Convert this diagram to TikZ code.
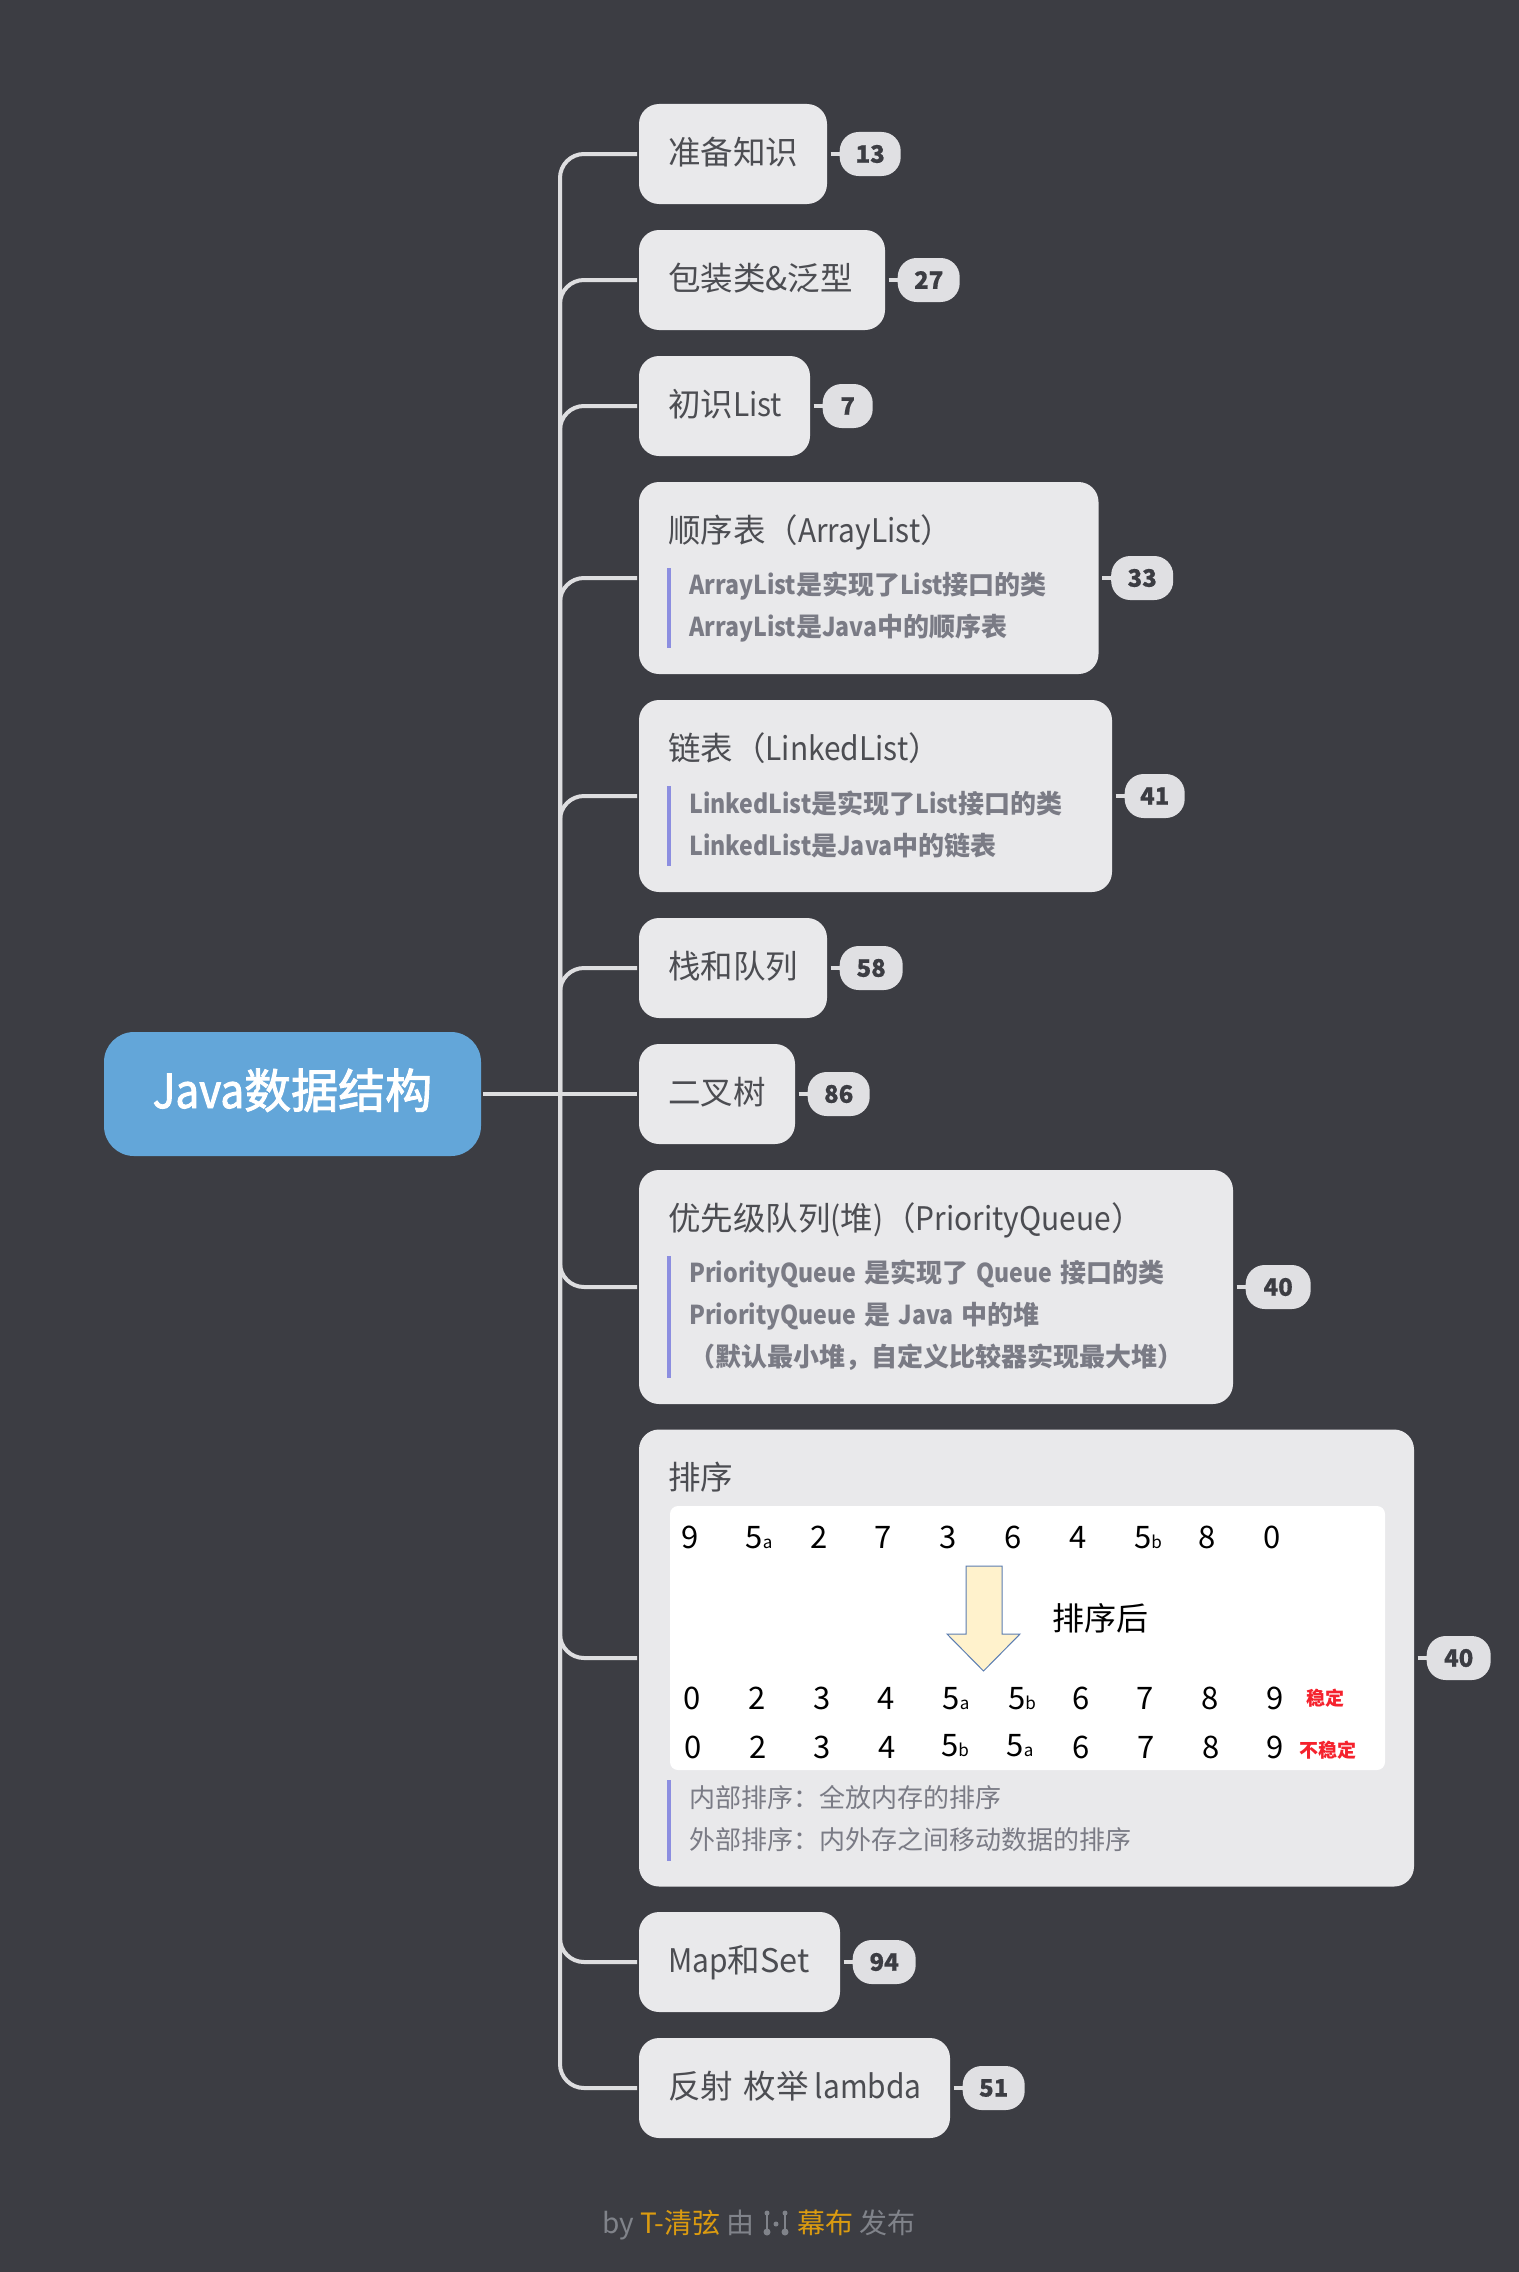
\documentclass[tikz,border=0pt]{standalone}
\usepackage{fontspec}
\setmainfont{Noto Sans CJK SC}
\newfontfamily\latf[FakeStretch=0.92,BoldFeatures={FakeStretch=0.89}]{Noto Sans CJK SC}
\newfontfamily\rootf[FakeBold=2]{Noto Sans CJK SC}
\newfontfamily\rootlatf[FakeBold=2,FakeStretch=0.9]{Noto Sans CJK SC}
\newfontfamily\badgef[BoldFeatures={FakeBold=0.6}]{Noto Sans CJK SC}
\newcommand{\lat}[1]{{\latf #1}}
\newcommand{\wsp}{\hspace{8pt}}
\definecolor{bgc}{HTML}{3C3D43}
\definecolor{boxc}{HTML}{E9E9EB}
\definecolor{rootc}{HTML}{63A6D9}
\definecolor{badgec}{HTML}{E0E0E3}
\definecolor{linec}{HTML}{DEDEE0}
\definecolor{titlec}{HTML}{4C4D52}
\definecolor{notec}{HTML}{7A7B85}
\definecolor{barc}{HTML}{8C8EE0}
\definecolor{footc}{HTML}{80838A}
\definecolor{orangec}{HTML}{DB9B10}
\definecolor{stablec}{HTML}{F5222D}
\definecolor{arrowc}{HTML}{FFF2CC}
\definecolor{arrowl}{HTML}{5B7DB1}
\newcommand{\fsz}[1]{\fontsize{#1}{#1}\selectfont}
\newcommand{\subs}[1]{{\fsz{17}#1}}
\tikzset{
  x=1pt,y=-1pt,
  rootbox/.style={fill=rootc,rounded corners=30pt,text=white,font=\fsz{47}\rootf,
    anchor=west,minimum width=377pt,minimum height=124pt,outer sep=2pt,inner sep=0pt,
    text height=39pt,text depth=11pt},
  topicbox/.style={fill=boxc,rounded corners=20pt,text=titlec,font=\fsz{32.5},anchor=west,
    minimum height=100pt,inner xsep=29pt,inner ysep=0pt,align=left,outer sep=2pt,
    text height=26.5pt,text depth=5.5pt},
  panelbox/.style={fill=boxc,rounded corners=20pt,anchor=west,inner sep=0pt,outer sep=2pt},
  titletext/.style={text=titlec,font=\fsz{32.5},anchor=west,inner sep=0pt,text height=28pt,text depth=4pt},
  notetext/.style={text=notec,font=\fontsize{26}{42}\selectfont\bfseries,anchor=west,inner sep=0pt,align=left},
  plainnote/.style={text=notec,font=\fontsize{26}{42}\selectfont,anchor=west,inner sep=0pt,align=left},
  notebar/.style={fill=barc,draw=none},
  badge/.style={fill=badgec,rounded corners=19pt,text=bgc,font=\fsz{24}\badgef\bfseries,
    anchor=west,minimum height=44pt,inner sep=0pt},
  conn/.style={draw=linec,line width=4pt,rounded corners=24pt},
  stub/.style={draw=linec,line width=4pt,shorten <=1.5pt},
  digit/.style={text=black,font=\fsz{31},inner sep=0pt,text height=27pt,text depth=4pt},
  tag/.style={text=stablec,font=\fsz{19}\bfseries,inner sep=0pt},
  foot/.style={text=footc,font=\fsz{28},anchor=west,inner sep=0pt,text height=24pt,text depth=3pt},
}
\begin{document}
\begin{tikzpicture}
\useasboundingbox (0,0) rectangle (1518,2272);
\fill[bgc] (-6,-6) rectangle (1524,2278);

% root
\node[rootbox] (root) at (102,1094) {{\rootlatf Java}数据结构};

% topics
\node[topicbox,text width=130pt] (n1) at (637,154) {准备知识};
\node[topicbox,text width=188pt] (n2) at (637,280) {包装类\&泛型};
\node[topicbox,text width=113pt] (n3) at (637,406) {初识\lat{List}};
\node[panelbox,minimum width=459.5pt,minimum height=192pt] (n4) at (637,578) {};
\node[panelbox,minimum width=473pt,minimum height=192pt] (n5) at (637,796) {};
\node[topicbox,text width=130pt] (n6) at (637,968) {栈和队列};
\node[topicbox,text width=98pt] (n7) at (637,1094) {二叉树};
\node[panelbox,minimum width=594pt,minimum height=234pt] (n8) at (637,1287) {};
\node[panelbox,minimum width=775pt,minimum height=457pt] (n9) at (637,1658) {};
\node[topicbox,text width=143pt] (n10) at (637,1962) {\lat{Map}和Set};
\node[topicbox,text width=253pt] (n11) at (637,2088) {\mbox{反射~枚举\hspace{6pt}\lat{lambda}}};

% panel contents: arraylist
\node[titletext] (t4) at (668,530) {顺序表（\lat{ArrayList}）};
\fill[notebar] (667,568) rectangle (670.5,648);
\node[notetext] (d4) at (689,607.5) {\lat{ArrayList}是实现了\lat{List}接口的类\\\lat{ArrayList}是\lat{Java}中的顺序表};
% linkedlist
\node[titletext] (t5) at (668,748) {链表（\lat{LinkedList}）};
\fill[notebar] (667,786) rectangle (670.5,866);
\node[notetext] (d5) at (689,824) {\lat{LinkedList}是实现了\lat{List}接口的类\\\lat{LinkedList}是\lat{Java}中的链表};
% priority queue
\node[titletext] (t8) at (668,1218) {优先级队列\lat{(}堆\lat{)}（\lat{PriorityQueue}）};
\fill[notebar] (667,1256) rectangle (670.5,1378);
\node[notetext] (d8) at (689,1315) {\lat{PriorityQueue}\wsp 是实现了\wsp\lat{Queue}\wsp 接口的类\\\lat{PriorityQueue}\wsp 是\wsp\lat{Java}\wsp 中的堆\\（默认最小堆，自定义比较器实现最大堆）};
% sort
\node[titletext] (t9) at (668,1477) {排序};
\fill[white,rounded corners=8pt] (670,1506) rectangle (1385,1770);
\node[digit] (a0) at (690,1537) {9};
\node[digit] (a1) at (759,1537) {5\subs{a}};
\node[digit] (a2) at (819,1537) {2};
\node[digit] (a3) at (883,1537) {7};
\node[digit] (a4) at (948,1537) {3};
\node[digit] (a5) at (1013,1537) {6};
\node[digit] (a6) at (1078,1537) {4};
\node[digit] (a7) at (1148,1537) {5\subs{b}};
\node[digit] (a8) at (1207,1537) {8};
\node[digit] (a9) at (1272,1537) {0};
\draw[draw=arrowl,line width=1pt,fill=arrowc] (966,1566) -- (1002,1566) -- (1002,1634) -- (1020,1634) -- (983.5,1671) -- (947,1634) -- (966,1634) -- cycle;
\node[digit,font=\fsz{32},text height=27pt,text depth=5pt] (after) at (1100,1619) {排序后};
\node[digit] (b0) at (692,1698) {0};
\node[digit] (b1n) at (757,1698) {2};
\node[digit] (b2n) at (822,1698) {3};
\node[digit] (b3n) at (886,1698) {4};
\node[digit] (b4n) at (956,1698) {5\subs{a}};
\node[digit] (b5n) at (1022,1698) {5\subs{b}};
\node[digit] (b6n) at (1081,1698) {6};
\node[digit] (b7n) at (1145,1698) {7};
\node[digit] (b8n) at (1210,1698) {8};
\node[digit] (b9n) at (1275,1698) {9};
\node[tag] (st) at (1325,1698) {稳定};
\node[digit] (c0) at (693,1747) {0};
\node[digit] (c1) at (758,1747) {2};
\node[digit] (c2) at (822,1747) {3};
\node[digit] (c3) at (887,1747) {4};
\node[digit] (c4) at (955,1745) {5\subs{b}};
\node[digit] (c5) at (1020,1745) {5\subs{a}};
\node[digit] (c6) at (1081,1747) {6};
\node[digit] (c7) at (1146,1747) {7};
\node[digit] (c8) at (1211,1747) {8};
\node[digit] (c9) at (1275,1747) {9};
\node[tag] (ust) at (1328,1750) {不稳定};
\fill[notebar] (667,1780) rectangle (670.5,1861);
\node[plainnote] (d9) at (689,1819) {内部排序：全放内存的排序\\外部排序：内外存之间移动数据的排序};

% badges
\node[badge,minimum width=61pt] (b1) at ([xshift=10.5pt]n1.east) {13};
\node[badge,minimum width=62pt] (b2) at ([xshift=10.5pt]n2.east) {27};
\node[badge,minimum width=50pt] (b3) at ([xshift=10.5pt]n3.east) {7};
\node[badge,minimum width=62pt] (b4) at ([xshift=10.5pt]n4.east) {33};
\node[badge,minimum width=60pt] (b5) at ([xshift=10.5pt]n5.east) {41};
\node[badge,minimum width=63pt] (b6) at ([xshift=10.5pt]n6.east) {58};
\node[badge,minimum width=62pt] (b7) at ([xshift=10.5pt]n7.east) {86};
\node[badge,minimum width=65pt] (b8) at ([xshift=10.5pt]n8.east) {40};
\node[badge,minimum width=64pt] (b9) at ([xshift=10.5pt]n9.east) {40};
\node[badge,minimum width=63pt] (b10) at ([xshift=10.5pt]n10.east) {94};
\node[badge,minimum width=62pt] (b11) at ([xshift=10.5pt]n11.east) {51};
\foreach \i in {1,...,11} {\draw[stub] (n\i.east) -- (b\i.west);}

% connectors
\coordinate (tr) at (560,1094);
\foreach \i in {1,2,3,4,5,6,8,9,10,11} {\draw[conn] (tr) |- (n\i.west);}
\draw[conn] (root.east) -- (n7.west);

% footer
\node[foot] (f1) at (602,2223) {by \textcolor{orangec}{T-清弦} 由};
\fill[footc] (767,2213) circle (2.5) (767,2232) circle (3.5) (776,2224) circle (2.5) (785,2213) circle (2.5) (785,2232) circle (3.5);
\draw[footc,line width=1.5pt] (767,2213) -- (767,2232) (785,2213) -- (785,2232);
\node[foot] (f2) at (797,2223) {\textcolor{orangec}{幕布} 发布};
\end{tikzpicture}
\end{document}
